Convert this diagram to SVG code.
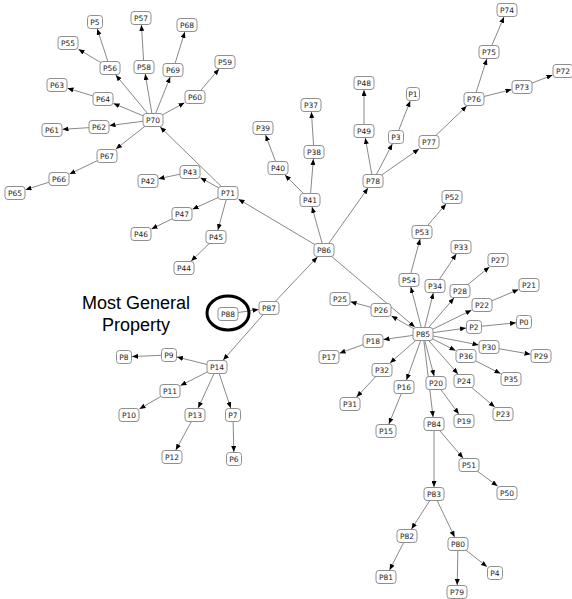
<svg xmlns="http://www.w3.org/2000/svg" width="572" height="599" viewBox="0 0 572 599">
<style>
.bg{fill:#fff}
.e{stroke:#7a7a7a;stroke-width:0.9;fill:none;marker-end:url(#ah)}
.node rect{fill:#fff;stroke:#8f8f8f;stroke-width:1}
.node text{font-family:"DejaVu Sans",sans-serif;font-size:7.5px;fill:#222;text-anchor:middle}
.lbl{font-family:"Liberation Sans",Arial,sans-serif;font-size:18px;fill:#000;text-anchor:middle}
</style>
<defs>
<marker id="ah" markerUnits="userSpaceOnUse" markerWidth="6" markerHeight="5" refX="6" refY="2.5" orient="auto" viewBox="0 0 6 5">
<path d="M0,0 L6,2.5 L0,5 z" fill="#000"/>
</marker>
</defs>
<rect class="bg" x="0" y="0" width="572" height="599"/>
<g id="connectors">
<path class="e" d="M324,250 L238.5,199.2"/>
<path class="e" d="M324,250 L312,207"/>
<path class="e" d="M324,250 L368,188"/>
<path class="e" d="M324,250 L414.8,327"/>
<path class="e" d="M269,308 L317.4,257"/>
<path class="e" d="M228,314 L258.5,309.5"/>
<path class="e" d="M269,308 L223.2,360"/>
<path class="e" d="M217,367 L177,357"/>
<path class="e" d="M169,355 L132,356.6"/>
<path class="e" d="M217,367 L180.5,385.6"/>
<path class="e" d="M170,391 L139.5,408.9"/>
<path class="e" d="M217,367 L198.2,408"/>
<path class="e" d="M195,415 L175.8,450"/>
<path class="e" d="M217,367 L230.7,408"/>
<path class="e" d="M233,415 L233.8,452"/>
<path class="e" d="M228,193 L160.2,127"/>
<path class="e" d="M228,193 L200.5,177.8"/>
<path class="e" d="M190,172 L158.5,178.8"/>
<path class="e" d="M228,193 L192.5,209.2"/>
<path class="e" d="M182,214 L151.5,228.9"/>
<path class="e" d="M228,193 L217.9,230"/>
<path class="e" d="M216,237 L191.2,261"/>
<path class="e" d="M153,120 L115.8,75"/>
<path class="e" d="M110,68 L97.3,29"/>
<path class="e" d="M110,68 L78.5,49.3"/>
<path class="e" d="M153,120 L145.2,74"/>
<path class="e" d="M144,67 L141.4,25"/>
<path class="e" d="M153,120 L170.2,77"/>
<path class="e" d="M173,70 L184.8,32"/>
<path class="e" d="M153,120 L184.5,102.8"/>
<path class="e" d="M195,97 L219,69"/>
<path class="e" d="M153,120 L113.5,103.4"/>
<path class="e" d="M103,99 L67.5,88.2"/>
<path class="e" d="M153,120 L109.5,125.6"/>
<path class="e" d="M99,127 L62.5,129.3"/>
<path class="e" d="M153,120 L115.9,149"/>
<path class="e" d="M107,156 L69.5,174"/>
<path class="e" d="M59,179 L25.5,189.7"/>
<path class="e" d="M310,200 L285,175"/>
<path class="e" d="M278,168 L265.6,135"/>
<path class="e" d="M310,200 L313.4,159"/>
<path class="e" d="M314,152 L311.4,112"/>
<path class="e" d="M373,181 L365.3,138"/>
<path class="e" d="M364,131 L364,90"/>
<path class="e" d="M373,181 L392.3,144"/>
<path class="e" d="M396,137 L410.2,101"/>
<path class="e" d="M373,181 L419,149"/>
<path class="e" d="M429,142 L466.7,106"/>
<path class="e" d="M474,99 L486.8,59"/>
<path class="e" d="M489,52 L504,17"/>
<path class="e" d="M474,99 L511.5,89.6"/>
<path class="e" d="M522,87 L552.5,75.1"/>
<path class="e" d="M423,334 L410.8,287"/>
<path class="e" d="M409,280 L420.1,239"/>
<path class="e" d="M422,232 L446,204"/>
<path class="e" d="M423,334 L433.3,293"/>
<path class="e" d="M435,286 L456.3,254"/>
<path class="e" d="M423,334 L454,298"/>
<path class="e" d="M460,291 L489.4,267"/>
<path class="e" d="M423,334 L471.5,310.2"/>
<path class="e" d="M482,305 L518.5,289.5"/>
<path class="e" d="M423,334 L466,328.1"/>
<path class="e" d="M474,327 L516,322.8"/>
<path class="e" d="M423,334 L478.5,344.9"/>
<path class="e" d="M489,347 L530.5,354.2"/>
<path class="e" d="M423,334 L455.5,350.6"/>
<path class="e" d="M466,356 L500.5,373.6"/>
<path class="e" d="M423,334 L457.9,374"/>
<path class="e" d="M464,381 L494.7,407"/>
<path class="e" d="M423,334 L434.1,376"/>
<path class="e" d="M436,383 L458.8,414"/>
<path class="e" d="M423,334 L433.1,417"/>
<path class="e" d="M434,424 L463,458"/>
<path class="e" d="M469,465 L497.5,486"/>
<path class="e" d="M434,424 L434,487"/>
<path class="e" d="M434,494 L411.5,529"/>
<path class="e" d="M407,536 L389.6,570"/>
<path class="e" d="M434,494 L454.6,537"/>
<path class="e" d="M458,544 L457.2,585"/>
<path class="e" d="M458,544 L487,566.7"/>
<path class="e" d="M423,334 L406.5,380"/>
<path class="e" d="M404,387 L388.9,424"/>
<path class="e" d="M423,334 L390,363"/>
<path class="e" d="M382,370 L356.6,397"/>
<path class="e" d="M423,334 L383.5,339.5"/>
<path class="e" d="M373,341 L339.5,353.2"/>
<path class="e" d="M423,334 L391.5,316"/>
<path class="e" d="M381,310 L350.5,301.8"/>
</g>
<g id="P0" class="node"><rect x="516.5" y="315.5" width="15" height="13" rx="3"/><text x="524" y="324.7">P0</text></g>
<g id="P1" class="node"><rect x="406.5" y="87.5" width="13" height="13" rx="3"/><text x="413" y="96.7">P1</text></g>
<g id="P2" class="node"><rect x="466.5" y="320.5" width="15" height="13" rx="3"/><text x="474" y="329.7">P2</text></g>
<g id="P3" class="node"><rect x="388.5" y="130.5" width="15" height="13" rx="3"/><text x="396" y="139.7">P3</text></g>
<g id="P4" class="node"><rect x="487.5" y="566.5" width="15" height="13" rx="3"/><text x="495" y="575.7">P4</text></g>
<g id="P5" class="node"><rect x="87.5" y="15.5" width="15" height="13" rx="3"/><text x="95" y="24.7">P5</text></g>
<g id="P6" class="node"><rect x="226.5" y="452.5" width="15" height="13" rx="3"/><text x="234" y="461.7">P6</text></g>
<g id="P7" class="node"><rect x="225.5" y="408.5" width="15" height="13" rx="3"/><text x="233" y="417.7">P7</text></g>
<g id="P8" class="node"><rect x="116.5" y="350.5" width="15" height="13" rx="3"/><text x="124" y="359.7">P8</text></g>
<g id="P9" class="node"><rect x="161.5" y="348.5" width="15" height="13" rx="3"/><text x="169" y="357.7">P9</text></g>
<g id="P10" class="node"><rect x="119" y="408.5" width="20" height="13" rx="3"/><text x="129" y="417.7">P10</text></g>
<g id="P11" class="node"><rect x="160" y="384.5" width="20" height="13" rx="3"/><text x="170" y="393.7">P11</text></g>
<g id="P12" class="node"><rect x="162" y="450.5" width="20" height="13" rx="3"/><text x="172" y="459.7">P12</text></g>
<g id="P13" class="node"><rect x="185" y="408.5" width="20" height="13" rx="3"/><text x="195" y="417.7">P13</text></g>
<g id="P14" class="node"><rect x="207" y="360.5" width="20" height="13" rx="3"/><text x="217" y="369.7">P14</text></g>
<g id="P15" class="node"><rect x="376" y="424.5" width="20" height="13" rx="3"/><text x="386" y="433.7">P15</text></g>
<g id="P16" class="node"><rect x="394" y="380.5" width="20" height="13" rx="3"/><text x="404" y="389.7">P16</text></g>
<g id="P17" class="node"><rect x="319" y="350.5" width="20" height="13" rx="3"/><text x="329" y="359.7">P17</text></g>
<g id="P18" class="node"><rect x="363" y="334.5" width="20" height="13" rx="3"/><text x="373" y="343.7">P18</text></g>
<g id="P19" class="node"><rect x="454" y="414.5" width="20" height="13" rx="3"/><text x="464" y="423.7">P19</text></g>
<g id="P20" class="node"><rect x="426" y="376.5" width="20" height="13" rx="3"/><text x="436" y="385.7">P20</text></g>
<g id="P21" class="node"><rect x="519" y="278.5" width="20" height="13" rx="3"/><text x="529" y="287.7">P21</text></g>
<g id="P22" class="node"><rect x="472" y="298.5" width="20" height="13" rx="3"/><text x="482" y="307.7">P22</text></g>
<g id="P23" class="node"><rect x="493" y="407.5" width="20" height="13" rx="3"/><text x="503" y="416.7">P23</text></g>
<g id="P24" class="node"><rect x="454" y="374.5" width="20" height="13" rx="3"/><text x="464" y="383.7">P24</text></g>
<g id="P25" class="node"><rect x="330" y="292.5" width="20" height="13" rx="3"/><text x="340" y="301.7">P25</text></g>
<g id="P26" class="node"><rect x="371" y="303.5" width="20" height="13" rx="3"/><text x="381" y="312.7">P26</text></g>
<g id="P27" class="node"><rect x="488" y="253.5" width="20" height="13" rx="3"/><text x="498" y="262.7">P27</text></g>
<g id="P28" class="node"><rect x="450" y="284.5" width="20" height="13" rx="3"/><text x="460" y="293.7">P28</text></g>
<g id="P29" class="node"><rect x="531" y="349.5" width="20" height="13" rx="3"/><text x="541" y="358.7">P29</text></g>
<g id="P30" class="node"><rect x="479" y="340.5" width="20" height="13" rx="3"/><text x="489" y="349.7">P30</text></g>
<g id="P31" class="node"><rect x="340" y="397.5" width="20" height="13" rx="3"/><text x="350" y="406.7">P31</text></g>
<g id="P32" class="node"><rect x="372" y="363.5" width="20" height="13" rx="3"/><text x="382" y="372.7">P32</text></g>
<g id="P33" class="node"><rect x="451" y="240.5" width="20" height="13" rx="3"/><text x="461" y="249.7">P33</text></g>
<g id="P34" class="node"><rect x="425" y="279.5" width="20" height="13" rx="3"/><text x="435" y="288.7">P34</text></g>
<g id="P35" class="node"><rect x="501" y="372.5" width="20" height="13" rx="3"/><text x="511" y="381.7">P35</text></g>
<g id="P36" class="node"><rect x="456" y="349.5" width="20" height="13" rx="3"/><text x="466" y="358.7">P36</text></g>
<g id="P37" class="node"><rect x="301" y="98.5" width="20" height="13" rx="3"/><text x="311" y="107.7">P37</text></g>
<g id="P38" class="node"><rect x="304" y="145.5" width="20" height="13" rx="3"/><text x="314" y="154.7">P38</text></g>
<g id="P39" class="node"><rect x="253" y="121.5" width="20" height="13" rx="3"/><text x="263" y="130.7">P39</text></g>
<g id="P40" class="node"><rect x="268" y="161.5" width="20" height="13" rx="3"/><text x="278" y="170.7">P40</text></g>
<g id="P41" class="node"><rect x="300" y="193.5" width="20" height="13" rx="3"/><text x="310" y="202.7">P41</text></g>
<g id="P42" class="node"><rect x="138" y="174.5" width="20" height="13" rx="3"/><text x="148" y="183.7">P42</text></g>
<g id="P43" class="node"><rect x="180" y="165.5" width="20" height="13" rx="3"/><text x="190" y="174.7">P43</text></g>
<g id="P44" class="node"><rect x="174" y="261.5" width="20" height="13" rx="3"/><text x="184" y="270.7">P44</text></g>
<g id="P45" class="node"><rect x="206" y="230.5" width="20" height="13" rx="3"/><text x="216" y="239.7">P45</text></g>
<g id="P46" class="node"><rect x="131" y="227.5" width="20" height="13" rx="3"/><text x="141" y="236.7">P46</text></g>
<g id="P47" class="node"><rect x="172" y="207.5" width="20" height="13" rx="3"/><text x="182" y="216.7">P47</text></g>
<g id="P48" class="node"><rect x="354" y="76.5" width="20" height="13" rx="3"/><text x="364" y="85.7">P48</text></g>
<g id="P49" class="node"><rect x="354" y="124.5" width="20" height="13" rx="3"/><text x="364" y="133.7">P49</text></g>
<g id="P50" class="node"><rect x="497" y="486.5" width="20" height="13" rx="3"/><text x="507" y="495.7">P50</text></g>
<g id="P51" class="node"><rect x="459" y="458.5" width="20" height="13" rx="3"/><text x="469" y="467.7">P51</text></g>
<g id="P52" class="node"><rect x="442" y="190.5" width="20" height="13" rx="3"/><text x="452" y="199.7">P52</text></g>
<g id="P53" class="node"><rect x="412" y="225.5" width="20" height="13" rx="3"/><text x="422" y="234.7">P53</text></g>
<g id="P54" class="node"><rect x="399" y="273.5" width="20" height="13" rx="3"/><text x="409" y="282.7">P54</text></g>
<g id="P55" class="node"><rect x="58" y="36.5" width="20" height="13" rx="3"/><text x="68" y="45.7">P55</text></g>
<g id="P56" class="node"><rect x="100" y="61.5" width="20" height="13" rx="3"/><text x="110" y="70.7">P56</text></g>
<g id="P57" class="node"><rect x="131" y="11.5" width="20" height="13" rx="3"/><text x="141" y="20.7">P57</text></g>
<g id="P58" class="node"><rect x="134" y="60.5" width="20" height="13" rx="3"/><text x="144" y="69.7">P58</text></g>
<g id="P59" class="node"><rect x="215" y="55.5" width="20" height="13" rx="3"/><text x="225" y="64.7">P59</text></g>
<g id="P60" class="node"><rect x="185" y="90.5" width="20" height="13" rx="3"/><text x="195" y="99.7">P60</text></g>
<g id="P61" class="node"><rect x="42" y="123.5" width="20" height="13" rx="3"/><text x="52" y="132.7">P61</text></g>
<g id="P62" class="node"><rect x="89" y="120.5" width="20" height="13" rx="3"/><text x="99" y="129.7">P62</text></g>
<g id="P63" class="node"><rect x="47" y="78.5" width="20" height="13" rx="3"/><text x="57" y="87.7">P63</text></g>
<g id="P64" class="node"><rect x="93" y="92.5" width="20" height="13" rx="3"/><text x="103" y="101.7">P64</text></g>
<g id="P65" class="node"><rect x="5" y="186.5" width="20" height="13" rx="3"/><text x="15" y="195.7">P65</text></g>
<g id="P66" class="node"><rect x="49" y="172.5" width="20" height="13" rx="3"/><text x="59" y="181.7">P66</text></g>
<g id="P67" class="node"><rect x="97" y="149.5" width="20" height="13" rx="3"/><text x="107" y="158.7">P67</text></g>
<g id="P68" class="node"><rect x="177" y="18.5" width="20" height="13" rx="3"/><text x="187" y="27.7">P68</text></g>
<g id="P69" class="node"><rect x="163" y="63.5" width="20" height="13" rx="3"/><text x="173" y="72.7">P69</text></g>
<g id="P70" class="node"><rect x="143" y="113.5" width="20" height="13" rx="3"/><text x="153" y="122.7">P70</text></g>
<g id="P71" class="node"><rect x="218" y="186.5" width="20" height="13" rx="3"/><text x="228" y="195.7">P71</text></g>
<g id="P72" class="node"><rect x="553" y="64.5" width="20" height="13" rx="3"/><text x="563" y="73.7">P72</text></g>
<g id="P73" class="node"><rect x="512" y="80.5" width="20" height="13" rx="3"/><text x="522" y="89.7">P73</text></g>
<g id="P74" class="node"><rect x="497" y="3.5" width="20" height="13" rx="3"/><text x="507" y="12.7">P74</text></g>
<g id="P75" class="node"><rect x="479" y="45.5" width="20" height="13" rx="3"/><text x="489" y="54.7">P75</text></g>
<g id="P76" class="node"><rect x="464" y="92.5" width="20" height="13" rx="3"/><text x="474" y="101.7">P76</text></g>
<g id="P77" class="node"><rect x="419" y="135.5" width="20" height="13" rx="3"/><text x="429" y="144.7">P77</text></g>
<g id="P78" class="node"><rect x="363" y="174.5" width="20" height="13" rx="3"/><text x="373" y="183.7">P78</text></g>
<g id="P79" class="node"><rect x="447" y="585.5" width="20" height="13" rx="3"/><text x="457" y="594.7">P79</text></g>
<g id="P80" class="node"><rect x="448" y="537.5" width="20" height="13" rx="3"/><text x="458" y="546.7">P80</text></g>
<g id="P81" class="node"><rect x="376" y="570.5" width="20" height="13" rx="3"/><text x="386" y="579.7">P81</text></g>
<g id="P82" class="node"><rect x="397" y="529.5" width="20" height="13" rx="3"/><text x="407" y="538.7">P82</text></g>
<g id="P83" class="node"><rect x="424" y="487.5" width="20" height="13" rx="3"/><text x="434" y="496.7">P83</text></g>
<g id="P84" class="node"><rect x="424" y="417.5" width="20" height="13" rx="3"/><text x="434" y="426.7">P84</text></g>
<g id="P85" class="node"><rect x="413" y="327.5" width="20" height="13" rx="3"/><text x="423" y="336.7">P85</text></g>
<g id="P86" class="node"><rect x="314" y="243.5" width="20" height="13" rx="3"/><text x="324" y="252.7">P86</text></g>
<g id="P87" class="node"><rect x="259" y="301.5" width="20" height="13" rx="3"/><text x="269" y="310.7">P87</text></g>
<g id="P88" class="node"><rect x="218" y="307.5" width="20" height="13" rx="3"/><text x="228" y="316.7">P88</text><ellipse cx="228" cy="313" rx="21" ry="17" fill="none" stroke="#000" stroke-width="3"/></g>
<g id="annotation">
<text class="lbl" x="136" y="309">Most General</text>
<text class="lbl" x="136" y="331">Property</text>
</g>
</svg>
